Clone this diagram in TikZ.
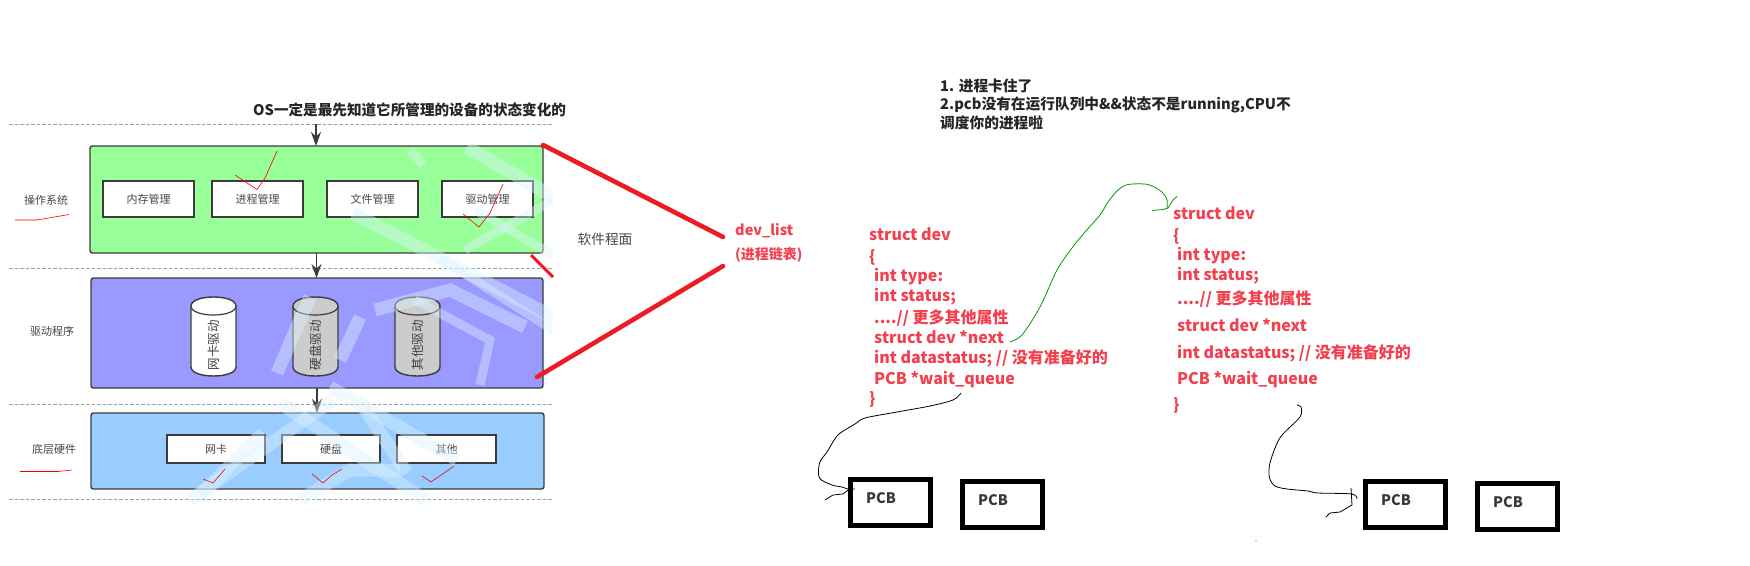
\documentclass[tikz,border=0pt]{standalone}
\usepackage{fontspec}
\setmainfont{Noto Sans CJK SC}
\usetikzlibrary{arrows.meta}
\definecolor{txtred}{HTML}{F2404F}
\definecolor{linered}{HTML}{ED1C24}
\definecolor{dk}{HTML}{3C3C3C}
\definecolor{wm}{HTML}{DDF3FF}
\tikzset{
  x=1pt,y=-1pt,
  sep/.style={draw=black!38,line width=0.8pt,dash pattern=on 3.5pt off 2pt},
  layer/.style={draw=dk,line width=1.4pt,rounded corners=2.5pt,inner sep=0,outer sep=0,anchor=north west},
  item/.style={draw=dk,fill=white,line width=1.7pt,inner sep=0,outer sep=0,anchor=north west,text=black!72,font=\fontsize{11}{13}\selectfont},
  side/.style={text=black!72,inner sep=0,font=\fontsize{11}{13}\selectfont},
  flow/.style={draw=dk,line width=1.2pt,-{Stealth[length=14pt,width=10pt]}},
  tick/.style={draw=red!95!black,line width=0.6pt},
  bar/.style={draw=linered,line width=4.6pt,line cap=round},
  code/.style={text=txtred,anchor=mid west,inner sep=0,font=\fontsize{16}{18}\bfseries\selectfont},
  pcb/.style={draw=black,line width=5pt,fill=white,anchor=north west,inner sep=0,outer sep=0},
  pcbtxt/.style={text=black!78,inner sep=0,font=\fontsize{14.5}{16}\bfseries\selectfont},
  note/.style={text=black!85,anchor=mid west,inner sep=0,font=\fontsize{14.7}{16}\bfseries\selectfont},
  curveb/.style={draw=black,line width=0.8pt},
  curveg/.style={draw=green!60!black,line width=0.8pt},
  wmark/.style={draw=wm,opacity=0.42,line width=13pt},
}
\newcommand{\cyl}[5]{% name, left x, fill, text, rotated label
  \path[draw=dk,fill=#3,line width=1.4pt]
    (#2,306) .. controls (#2,294) and (#2+45,294) .. (#2+45,306)
    -- (#2+45,367) .. controls (#2+45,379) and (#2,379) .. (#2,367) -- cycle;
  \path[draw=dk,fill=#4,line width=1.2pt]
    (#2,306) .. controls (#2,318) and (#2+45,318) .. (#2+45,306);
  \node[rotate=90,text=black!75,inner sep=0,font=\fontsize{12.5}{14}\selectfont] (#1) at (#2+22.5,345) {#5};
}
\begin{document}
\begin{tikzpicture}
\useasboundingbox (0,0) rectangle (1750,565);
% separators
\coordinate (s1a) at (9,124.5); \coordinate (s1b) at (552,124.5);
\coordinate (s2a) at (9,268.5); \coordinate (s2b) at (552,268.5);
\coordinate (s3a) at (9,404); \coordinate (s3b) at (552,404);
\coordinate (s4a) at (9,499); \coordinate (s4b) at (552,499);
\draw[sep] (s1a)--(s1b); \draw[sep] (s2a)--(s2b); \draw[sep] (s3a)--(s3b); \draw[sep] (s4a)--(s4b);
% layers
\node[layer,fill={rgb,255:red,153;green,255;blue,153},minimum width=453pt,minimum height=107pt] (os) at (90,146) {};
\node[layer,fill={rgb,255:red,153;green,153;blue,255},minimum width=452pt,minimum height=110pt] (drv) at (91,278) {};
\node[layer,fill={rgb,255:red,153;green,204;blue,255},minimum width=453pt,minimum height=76pt] (hw) at (91,413) {};
% flows
\coordinate (top) at (316,124);
\draw[flow] (top) -- (os.north -| top);
\draw[flow] (os.south -| 316.5,0) -- (drv.north -| 316.5,0);
\draw[flow] (drv.south -| 317,0) -- (hw.north -| 317,0);
% items
\node[item,minimum width=91pt,minimum height=36pt] (m1) at (103,181) {内存管理};
\node[item,minimum width=91pt,minimum height=36pt] (m2) at (212,181) {进程管理};
\node[item,minimum width=91pt,minimum height=36pt] (m3) at (327,181) {文件管理};
\node[item,minimum width=91pt,minimum height=36pt] (m4) at (442,181) {驱动管理};
\node[item,minimum width=98pt,minimum height=28pt] (h1) at (167,435) {网卡};
\node[item,minimum width=98pt,minimum height=28pt] (h2) at (282,435) {硬盘};
\node[item,minimum width=99pt,minimum height=28pt] (h3) at (397,435) {其他};
\cyl{c1}{191}{white}{white}{网卡驱动}
\cyl{c2}{293}{black!20}{black!20}{硬盘驱动}
\cyl{c3}{395}{black!20}{black!20}{其他驱动}
% watermark
\begin{scope}
\clip (0,124) rectangle (553,505);
\draw[wmark] (353,213) -- (553,317);
\draw[wmark] (467,147) -- (553,197);
\draw[wmark,line width=9pt] (410,150) -- (423,165);
\draw[wmark] (277,373) -- (310,297);
\draw[wmark] (360,317) -- (340,360);
\draw[wmark] (375,310) -- (450,290) -- (525,327);
\draw[wmark] (190,500) -- (333,400);
\draw[wmark] (280,403) -- (425,500);
\draw[wmark] (363,407) -- (407,473);
\draw[wmark] (330,387) -- (457,460);
\draw[wmark] (200,495) -- (263,433);
\draw[wmark] (300,500) -- (350,470) -- (400,470);
\draw[wmark,line width=9pt] (465,250) -- (553,200);
\draw[wmark,line width=9pt] (475,210) -- (553,255);
\draw[wmark,line width=9pt] (440,258) -- (553,330);
\draw[wmark,line width=9pt] (415,300) -- (490,340) -- (480,385);
\end{scope}
\node[inner sep=0,anchor=west,text=black!85,font=\fontsize{14.6}{16}\bfseries\selectfont] (title) at (253,110) {OS一定是最先知道它所管理的设备的状态变化的};
\node[side] (l1) at (46,200) {操作系统};
\node[side] (l2) at (52,331) {驱动程序};
\node[side] (l3) at (54,449) {底层硬件};
\node[side,font=\fontsize{13.7}{15}\selectfont] (soft) at (605,239) {软件程面};
% hand ticks
\draw[tick] (15,220) -- (37,220) -- (69,214.5);
\draw[tick] (20,471.5) -- (58,471.5) -- (72,470);
\draw[tick] (235,175) -- (257,189.5) -- (265,178) -- (277,151);
\draw[tick] (463,214) -- (479,227) -- (490,213) -- (503,184);
\draw[tick] (203,479) -- (213,483) -- (225,469);
\draw[tick] (312,474) -- (323,483) -- (332,475) -- (342,469);
\draw[tick] (422,476) -- (431,482) -- (454,466);
% dev_list
\node[text=txtred,anchor=mid west,inner sep=0,font=\fontsize{14.5}{16}\bfseries\selectfont] (dev) at (735,233) {dev\_list};
\node[text=txtred,anchor=mid west,inner sep=0,font=\fontsize{14}{16}\bfseries\selectfont] (devb) at (735,257) {(进程链表)};
\coordinate (r1a) at (543,145); \coordinate (r1b) at (723,237);
\coordinate (r2a) at (723,266); \coordinate (r2b) at (537,377);
\coordinate (r3a) at (531,255); \coordinate (r3b) at (553,277);
\draw[bar] (r1a) -- (r1b);
\draw[bar] (r2a) -- (r2b);
\draw[bar,line cap=butt,line width=3pt] (r3a) -- (r3b);
% note
\node[note] (n1) at (940,89) {1. 进程卡住了};
\node[note] (n2) at (940,106.5) {2.pcb没有在运行队列中\&\&状态不是running,CPU不};
\node[note] (n3) at (940,125.5) {调度你的进程啦};
% struct one
\node[code] (a1) at (869,238) {struct dev};
\node[code] (a2) at (869,260) {\{};
\node[code] (a3) at (874,279) {int type:};
\node[code] (a4) at (874,299) {int status;};
\node[code] (a5) at (874,321) {....// 更多其他属性};
\node[code] (a6) at (874,341) {struct dev *next};
\node[code] (a7) at (874,361) {int datastatus; // 没有准备好的};
\node[code] (a8) at (874,382) {PCB *wait\_queue};
\node[code] (a9) at (869,402) {\}};
% struct two
\node[code] (b1) at (1173,217) {struct dev};
\node[code] (b2) at (1173,239) {\{};
\node[code] (b3) at (1177,258) {int type:};
\node[code] (b4) at (1177,278) {int status;};
\node[code] (b5) at (1177,302) {....// 更多其他属性};
\node[code] (b6) at (1177,329) {struct dev *next};
\node[code] (b7) at (1177,356) {int datastatus; // 没有准备好的};
\node[code] (b8) at (1177,382) {PCB *wait\_queue};
\node[code] (b9) at (1173,408) {\}};
% PCB boxes
\node[pcb,minimum width=80pt,minimum height=46pt] (p1) at (850.5,479.5) {};
\node[pcb,minimum width=80pt,minimum height=46pt] (p2) at (962.5,481.5) {};
\node[pcb,minimum width=80pt,minimum height=46pt] (p3) at (1365.5,481.5) {};
\node[pcb,minimum width=80pt,minimum height=46pt] (p4) at (1477.5,483.5) {};
\node[pcbtxt] (t1) at (881,498) {PCB};
\node[pcbtxt] (t2) at (993,500) {PCB};
\node[pcbtxt] (t3) at (1396,500) {PCB};
\node[pcbtxt] (t4) at (1508,502) {PCB};
% hand curves
\coordinate (ga) at (1010,342); \coordinate (gb) at (1167,208);
\draw[curveg] plot[smooth,tension=0.5] coordinates {(ga) (1022,335) (1040,307) (1057,270) (1072,248) (1085,232) (1100,215) (1108,202) (1118,190) (1128,184.5) (1148,184.5) (1162,192) (1167,200) (gb)};
\draw[curveg] (1152,210.5) -- (1163,209.5) -- (1168,208) -- (1173,200) -- (1177,196.5);
\coordinate (ka) at (961,393); \coordinate (kb) at (855,489);
\draw[curveb] plot[smooth,tension=0.5] coordinates {(ka) (953,400) (930,406) (897,412) (865,418) (855,424) (838,435) (827,452) (819.5,463) (819.5,478) (832,485) (842,487) (848,489) (kb)};
\draw[curveb] (848,490) -- (843,494) -- (833,495) -- (825,500);
\coordinate (kc) at (1297,405); \coordinate (kd) at (1357,499);
\draw[curveb] plot[smooth,tension=0.5] coordinates {(kc) (1301,407) (1300,417) (1282,435) (1275,448) (1269.5,465) (1269.5,478) (1275,486) (1287,489) (1308,491) (1318,493) (1352,494) (kd)};
\draw[curveb] (1351,488) -- (1352,505) -- (1340,512) -- (1330,513) -- (1326,517);
\coordinate (dot) at (1256,541);
\fill[green!60!black] (dot) circle (0.6);
\end{tikzpicture}
\end{document}
